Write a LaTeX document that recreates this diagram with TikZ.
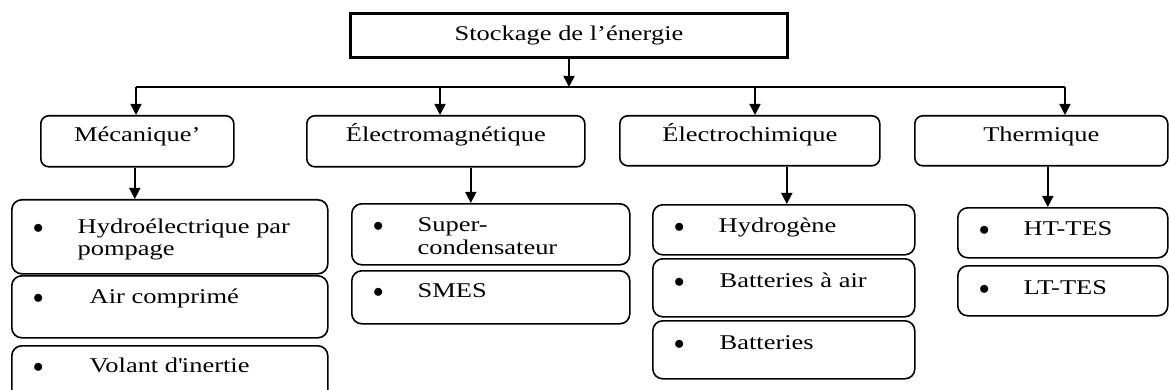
\documentclass[tikz,border=0pt]{standalone}
\usepackage{fontspec}
\setmainfont[FakeStretch=1.26]{Liberation Serif}
\usetikzlibrary{arrows.meta,positioning}
\newcommand{\itm}[2][44.5pt]{\makebox[#1][l]{$\bullet$}\begin{tabular}[t]{@{}l@{}}#2\end{tabular}}

\begin{document}
\begin{tikzpicture}[
  x=1pt, y=-1pt,
  font=\fontsize{21}{23}\selectfont,
  rootbox/.style={draw, line width=3pt, anchor=north west, inner sep=0pt},
  catbox/.style={draw, line width=1.6pt, rounded corners=8pt, anchor=north west, inner sep=0pt,
    text height=13pt, text depth=12pt},
  itembox/.style={draw, line width=1.6pt, rounded corners=10pt, anchor=north west, inner sep=0pt},
  itemtxt/.style={anchor=base west, inner sep=0pt},
  arr/.style={line width=1.6pt, -{Triangle[length=11pt,width=11pt]}},
  bus/.style={line width=1.6pt}
]
  \useasboundingbox (0,0) rectangle (1169,390);
  \clip (0,0) rectangle (1169,390);

  % Root
  \node[rootbox, minimum width=437pt, minimum height=44pt] (root) at (349,12) {Stockage de l’énergie};

  % Categories
  \node[catbox, minimum width=193pt, minimum height=51pt] (meca)   at (40,115)  {Mécanique’};
  \node[catbox, minimum width=278pt, minimum height=51pt] (elmag)  at (306,115) {Électromagnétique};
  \node[catbox, minimum width=260pt, minimum height=50pt] (elchim) at (619,115) {Électrochimique};
  \node[catbox, minimum width=253pt, minimum height=50pt] (therm)  at (914,115) {Thermique};

  % Bus
  \coordinate (b1) at (136,87);
  \coordinate (b2) at (440,87);
  \coordinate (b3) at (755,87);
  \coordinate (b4) at (1065,87);
  \draw[arr] (root.south) -- (root.south |- b1);
  \draw[bus] (b1) -- (b4);
  \draw[arr] (b1) -- (b1 |- meca.north);
  \draw[arr] (b2) -- (b2 |- elmag.north);
  \draw[arr] (b3) -- (b3 |- elchim.north);
  \draw[arr] (b4) -- (b4 |- therm.north);

  % Items
  \node[itembox, minimum width=316pt, minimum height=74pt] (hydro)  at (11,199)  {};
  \node[itembox, minimum width=316pt, minimum height=62pt] (air)    at (11,275)  {};
  \node[itembox, minimum width=316pt, minimum height=60pt] (volant) at (11,345)  {};
  \node[itembox, minimum width=278pt, minimum height=61pt] (supc)   at (351,203) {};
  \node[itembox, minimum width=278pt, minimum height=53pt] (smes)   at (351,270) {};
  \node[itembox, minimum width=262pt, minimum height=50pt] (hydrog) at (652,204) {};
  \node[itembox, minimum width=262pt, minimum height=58pt] (batair) at (652,258) {};
  \node[itembox, minimum width=262pt, minimum height=58pt] (batt)   at (652,320) {};
  \node[itembox, minimum width=210pt, minimum height=50pt] (htes)   at (957,207) {};
  \node[itembox, minimum width=210pt, minimum height=50pt] (ltes)   at (957,265) {};

  \draw[arr] ([xshift=-2.5pt]meca.south) -- ([xshift=-2.5pt]meca.south |- hydro.north);
  \draw[arr] ([xshift=25pt]elmag.south) -- ([xshift=25pt]elmag.south |- supc.north);
  \draw[arr] ([xshift=37pt]elchim.south) -- ([xshift=37pt]elchim.south |- hydrog.north);
  \draw[arr] ([xshift=6.5pt]therm.south) -- ([xshift=6.5pt]therm.south |- htes.north);

  \node[itemtxt] (hydrot)  at ([shift={(22,34)}]hydro.north west)  {\itm{Hydroélectrique par\\pompage}};
  \node[itemtxt] (airt)    at ([shift={(22,28)}]air.north west)    {\itm[56.5pt]{Air comprimé}};
  \node[itemtxt] (volantt) at ([shift={(22,27)}]volant.north west) {\itm[56.5pt]{Volant d\textquotesingle inertie}};
  \node[itemtxt] (supct)   at ([shift={(22,28)}]supc.north west)   {\itm{Super-\\condensateur}};
  \node[itemtxt] (smest)   at ([shift={(22,27)}]smes.north west)   {\itm{SMES}};
  \node[itemtxt] (hydrogt) at ([shift={(22,28)}]hydrog.north west) {\itm{Hydrogène}};
  \node[itemtxt] (batairt) at ([shift={(22,29)}]batair.north west) {\itm[45.5pt]{Batteries à air}};
  \node[itemtxt] (battt)   at ([shift={(22,29)}]batt.north west)   {\itm[45.5pt]{Batteries}};
  \node[itemtxt] (htest)   at ([shift={(22,28)}]htes.north west)   {\itm{HT-TES}};
  \node[itemtxt] (ltest)   at ([shift={(22,29)}]ltes.north west)   {\itm{LT-TES}};

\end{tikzpicture}
\end{document}
